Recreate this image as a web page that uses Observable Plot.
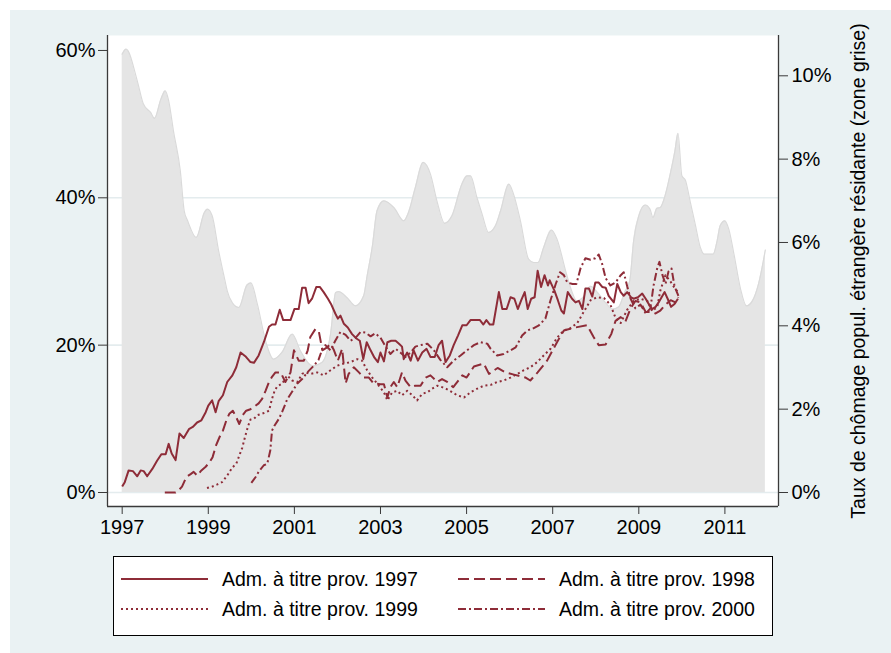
<!DOCTYPE html>
<html><head><meta charset="utf-8">
<script src="https://cdn.jsdelivr.net/npm/d3@7"></script>
<script src="https://cdn.jsdelivr.net/npm/@observablehq/plot@0.6"></script>
<style>
body{margin:0;background:#fff;font-family:"Liberation Sans",Arial,sans-serif;}
#bg{position:absolute;left:10px;top:10px;width:881px;height:643px;background:#eaf2f3;}
#chart{position:absolute;left:0;top:0;}
#legend{position:absolute;left:113px;top:556px;width:660px;height:80px;border:1px solid #000;background:#fff;box-sizing:border-box;}
.item{position:absolute;height:26px;display:flex;align-items:center;font-size:19.5px;color:#000;white-space:nowrap;}
.item svg{margin-right:14px;}
</style></head><body>
<div id="bg"></div><div id="chart"></div><div id="legend"></div>
<script>
// Unemployment rate of resident foreign population (right axis, %), [year, value]
const unemployment = [[1997.00,10.52],[1997.09,10.64],[1997.35,9.88],[1997.49,9.33],[1997.66,9.12],[1997.75,8.98],[1997.90,9.44],[1998.00,9.64],[1998.08,9.40],[1998.19,8.68],[1998.35,7.72],[1998.44,6.76],[1998.52,6.52],[1998.72,6.12],[1998.91,6.72],[1998.98,6.80],[1999.09,6.64],[1999.24,5.80],[1999.38,5.12],[1999.44,4.84],[1999.56,4.55],[1999.71,4.44],[1999.90,4.98],[1999.99,5.03],[2000.14,4.52],[2000.33,3.64],[2000.52,3.20],[2000.71,3.36],[2000.95,3.80],[2001.14,3.40],[2001.42,3.04],[2001.64,3.12],[2001.84,3.80],[2001.96,4.80],[2002.03,4.82],[2002.22,4.68],[2002.42,4.48],[2002.61,4.72],[2002.69,5.20],[2002.81,5.90],[2002.92,6.76],[2003.08,7.00],[2003.31,6.84],[2003.54,6.52],[2003.65,6.72],[2003.81,7.32],[2003.99,7.92],[2004.16,7.64],[2004.31,7.00],[2004.49,6.46],[2004.66,6.64],[2004.89,7.40],[2005.01,7.60],[2005.09,7.60],[2005.24,7.08],[2005.36,6.68],[2005.51,6.24],[2005.67,6.40],[2005.79,6.76],[2005.98,7.40],[2006.09,7.16],[2006.25,6.52],[2006.44,5.60],[2006.56,5.52],[2006.66,5.52],[2006.79,5.88],[2006.97,6.30],[2007.10,6.08],[2007.30,5.32],[2007.42,4.90],[2007.56,4.60],[2007.72,4.70],[2007.88,4.95],[2008.04,4.80],[2008.23,4.55],[2008.39,4.40],[2008.53,4.45],[2008.67,4.80],[2008.79,5.08],[2008.88,6.04],[2009.00,6.64],[2009.15,6.90],[2009.26,6.80],[2009.33,6.60],[2009.42,6.82],[2009.50,6.84],[2009.61,7.12],[2009.73,7.64],[2009.84,8.20],[2009.91,8.62],[2010.00,7.60],[2010.08,7.50],[2010.19,7.00],[2010.31,6.44],[2010.43,5.88],[2010.52,5.72],[2010.73,5.72],[2010.82,6.04],[2010.89,6.40],[2011.00,6.52],[2011.09,6.32],[2011.21,5.72],[2011.36,4.90],[2011.50,4.48],[2011.64,4.60],[2011.78,5.00],[2011.94,5.82]];

// Cohort lines (left axis, %), [year, value]
const adm1997 = [[1997.00,0.8],[1997.06,1.4],[1997.15,3.0],[1997.25,2.9],[1997.35,2.2],[1997.43,3.0],[1997.50,2.9],[1997.58,2.2],[1997.70,3.2],[1997.81,4.3],[1997.91,5.2],[1998.01,5.2],[1998.08,6.6],[1998.15,5.3],[1998.24,4.4],[1998.33,8.0],[1998.43,7.4],[1998.55,8.6],[1998.64,8.9],[1998.74,9.5],[1998.84,9.8],[1998.94,10.9],[1999.00,11.8],[1999.09,12.5],[1999.17,10.9],[1999.24,12.4],[1999.34,13.2],[1999.44,15.0],[1999.56,15.9],[1999.65,17.0],[1999.75,19.0],[1999.86,18.5],[1999.98,17.7],[2000.06,17.6],[2000.17,18.6],[2000.29,20.4],[2000.41,22.5],[2000.48,22.8],[2000.56,22.8],[2000.66,24.8],[2000.74,23.4],[2000.83,23.4],[2000.91,23.4],[2001.00,24.9],[2001.10,24.9],[2001.18,27.8],[2001.26,27.8],[2001.33,25.7],[2001.41,26.3],[2001.51,27.9],[2001.59,27.9],[2001.68,27.2],[2001.78,26.3],[2001.85,25.6],[2001.95,24.3],[2002.01,23.6],[2002.07,24.0],[2002.15,22.9],[2002.24,22.4],[2002.34,21.5],[2002.44,20.9],[2002.52,20.6],[2002.60,18.1],[2002.68,20.4],[2002.77,19.3],[2002.86,18.3],[2002.94,17.7],[2003.00,19.0],[2003.08,17.8],[2003.16,20.4],[2003.25,20.6],[2003.35,20.6],[2003.43,20.2],[2003.50,19.8],[2003.54,18.1],[2003.62,19.0],[2003.70,17.9],[2003.77,19.3],[2003.87,17.9],[2003.97,19.0],[2004.07,19.5],[2004.16,18.4],[2004.26,18.4],[2004.35,20.0],[2004.43,20.6],[2004.51,17.7],[2004.61,18.6],[2004.70,20.0],[2004.80,21.3],[2004.90,22.7],[2005.00,22.7],[2005.09,23.4],[2005.21,23.4],[2005.31,23.4],[2005.39,22.8],[2005.46,23.4],[2005.54,22.8],[2005.62,22.8],[2005.75,27.2],[2005.83,24.9],[2005.93,24.9],[2006.02,26.5],[2006.11,26.3],[2006.19,24.9],[2006.27,26.1],[2006.35,27.2],[2006.42,24.9],[2006.50,26.3],[2006.58,26.5],[2006.65,30.1],[2006.73,27.9],[2006.81,29.5],[2006.89,28.1],[2006.93,28.8],[2007.04,27.4],[2007.12,26.1],[2007.20,24.7],[2007.26,24.3],[2007.35,27.2],[2007.45,26.3],[2007.53,25.8],[2007.61,26.0],[2007.69,24.9],[2007.76,27.7],[2007.84,27.7],[2007.92,26.6],[2007.99,28.5],[2008.07,28.5],[2008.15,27.9],[2008.23,27.8],[2008.30,26.7],[2008.42,25.8],[2008.50,28.3],[2008.58,27.2],[2008.65,26.7],[2008.73,27.2],[2008.82,26.5],[2008.88,26.3],[2008.98,26.5],[2009.08,27.0],[2009.16,26.3],[2009.23,25.6],[2009.31,24.9],[2009.39,25.2],[2009.46,25.8],[2009.54,26.6],[2009.60,27.2],[2009.67,26.3],[2009.75,25.2],[2009.83,25.6],[2009.91,26.3]];

const adm1998 = [[1997.99,0.0],[1998.24,0.0],[1998.31,0.3],[1998.39,0.8],[1998.49,2.1],[1998.59,2.5],[1998.66,2.8],[1998.74,2.3],[1998.84,3.0],[1998.94,3.5],[1999.03,4.1],[1999.10,4.8],[1999.18,6.4],[1999.26,7.5],[1999.34,8.4],[1999.42,9.8],[1999.49,10.7],[1999.57,11.1],[1999.65,10.2],[1999.72,9.3],[1999.80,10.5],[1999.88,11.1],[1999.98,11.3],[2000.08,11.7],[2000.17,12.1],[2000.25,12.7],[2000.33,13.8],[2000.41,15.0],[2000.48,15.7],[2000.56,16.3],[2000.68,16.3],[2000.79,15.0],[2000.91,16.3],[2000.99,19.3],[2001.10,17.9],[2001.22,17.9],[2001.31,19.3],[2001.37,21.1],[2001.49,22.2],[2001.57,21.8],[2001.65,19.3],[2001.76,19.7],[2001.84,20.2],[2001.92,19.3],[2002.01,17.9],[2002.11,19.5],[2002.19,14.8],[2002.26,16.1],[2002.38,17.0],[2002.50,16.3],[2002.61,15.6],[2002.73,15.6],[2002.84,14.8],[2003.00,14.7],[2003.08,14.7],[2003.16,12.9],[2003.23,14.3],[2003.31,15.0],[2003.39,14.3],[2003.50,16.3],[2003.58,15.2],[2003.70,14.3],[2003.81,14.5],[2003.93,14.5],[2004.05,15.6],[2004.16,15.9],[2004.32,15.0],[2004.43,15.4],[2004.55,15.0],[2004.69,14.3],[2004.90,15.9],[2005.00,15.6],[2005.17,17.1],[2005.40,17.5],[2005.52,16.1],[2005.72,16.9],[2005.90,16.3],[2006.10,16.0],[2006.37,15.6],[2006.48,15.2],[2006.65,16.3],[2006.87,17.9],[2007.10,20.4],[2007.26,22.0],[2007.53,22.4],[2007.80,22.7],[2007.95,21.1],[2008.07,20.0],[2008.23,20.1],[2008.36,21.5],[2008.46,23.3],[2008.58,23.8],[2008.69,23.2],[2008.81,25.0],[2008.92,26.0],[2009.04,25.8],[2009.16,24.5],[2009.27,24.5],[2009.39,24.3],[2009.50,24.7],[2009.62,25.5],[2009.74,26.1],[2009.85,25.8],[2009.92,26.5]];

const adm1999 = [[1998.97,0.6],[1999.09,0.8],[1999.21,1.1],[1999.32,1.4],[1999.44,2.3],[1999.56,3.4],[1999.65,3.9],[1999.72,5.0],[1999.79,6.1],[1999.86,7.7],[1999.93,9.1],[1999.98,9.9],[2000.06,10.0],[2000.14,10.5],[2000.25,10.7],[2000.34,10.9],[2000.41,11.1],[2000.48,12.7],[2000.54,13.8],[2000.60,14.4],[2000.72,14.8],[2000.83,15.9],[2000.95,15.2],[2001.07,15.0],[2001.18,16.1],[2001.26,16.3],[2001.37,16.1],[2001.53,16.3],[2001.68,15.9],[2001.84,16.6],[2001.99,17.2],[2002.15,17.5],[2002.30,17.7],[2002.46,18.1],[2002.57,17.9],[2002.69,16.6],[2002.81,15.6],[2002.92,14.8],[2003.08,13.6],[2003.16,12.5],[2003.27,13.6],[2003.39,13.8],[2003.50,13.2],[2003.62,13.8],[2003.74,13.2],[2003.85,12.5],[2003.97,13.4],[2004.09,13.6],[2004.20,14.1],[2004.32,14.5],[2004.43,14.3],[2004.55,14.0],[2004.67,13.6],[2004.78,13.2],[2004.94,12.9],[2005.09,13.6],[2005.25,14.1],[2005.40,14.5],[2005.56,14.6],[2005.71,15.0],[2005.86,15.2],[2006.02,15.6],[2006.18,16.1],[2006.33,16.6],[2006.48,17.0],[2006.64,17.7],[2006.79,18.6],[2006.95,19.5],[2007.10,21.0],[2007.26,22.0],[2007.41,22.3],[2007.57,23.0],[2007.72,24.5],[2007.88,26.1],[2008.03,26.5],[2008.19,26.4],[2008.34,25.5],[2008.46,23.7],[2008.58,23.0],[2008.73,24.8],[2008.88,26.0],[2009.04,26.3],[2009.20,26.0],[2009.31,24.6],[2009.43,25.2],[2009.50,27.4],[2009.62,29.5],[2009.74,28.6],[2009.85,27.6],[2009.92,27.2]];

const adm2000 = [[2000.00,1.3],[2000.10,2.1],[2000.17,2.8],[2000.29,3.7],[2000.37,3.9],[2000.44,5.7],[2000.48,8.4],[2000.54,9.1],[2000.64,10.0],[2000.72,11.0],[2000.83,12.6],[2000.95,13.7],[2001.07,14.8],[2001.18,15.4],[2001.30,16.3],[2001.45,17.2],[2001.56,18.0],[2001.65,19.5],[2001.72,20.0],[2001.84,19.3],[2001.95,20.6],[2002.07,21.8],[2002.19,21.4],[2002.30,20.6],[2002.42,21.0],[2002.54,21.8],[2002.65,21.7],[2002.77,21.2],[2002.88,21.6],[2003.00,21.0],[2003.12,19.8],[2003.23,18.8],[2003.35,19.5],[2003.46,19.0],[2003.58,18.4],[2003.70,19.0],[2003.81,19.8],[2003.93,20.0],[2004.09,20.2],[2004.24,19.3],[2004.39,18.0],[2004.55,17.0],[2004.70,17.9],[2004.86,18.6],[2005.01,19.3],[2005.17,20.0],[2005.32,20.4],[2005.48,20.2],[2005.56,19.5],[2005.71,18.6],[2005.86,18.8],[2006.02,19.3],[2006.14,19.7],[2006.29,21.3],[2006.41,22.0],[2006.52,22.2],[2006.68,22.7],[2006.83,23.6],[2006.95,26.1],[2007.07,28.3],[2007.17,29.9],[2007.26,29.5],[2007.34,28.5],[2007.46,28.3],[2007.55,28.3],[2007.65,30.5],[2007.76,31.8],[2007.88,31.6],[2007.99,31.8],[2008.07,32.3],[2008.15,31.0],[2008.23,29.1],[2008.34,28.1],[2008.46,28.5],[2008.58,29.5],[2008.65,29.9],[2008.73,28.0],[2008.81,26.3],[2008.92,25.0],[2009.04,25.5],[2009.16,24.3],[2009.27,25.0],[2009.34,28.0],[2009.43,30.5],[2009.48,31.3],[2009.55,29.5],[2009.62,28.3],[2009.69,30.0],[2009.76,30.4],[2009.83,28.0],[2009.92,26.7]];

const seriesNames = ["Adm. à titre prov. 1997","Adm. à titre prov. 1998","Adm. à titre prov. 1999","Adm. à titre prov. 2000"];
const xTicks = [1997,1999,2001,2003,2005,2007,2009,2011];
const leftTicks = [0,20,40,60];
const gridTicks = [0,20,40];
const rightTicks = [0,2,4,6,8,10];
const rightTitle = "Taux de chômage popul. étrangère résidante (zone grise)";

const k = 5.656; // right-axis unit expressed in left-axis units
const lineColor = "#8e2c38";
const dashes = [null, "11,5", "2,3", "8,3,2,3"];
const series = [adm1997, adm1998, adm1999, adm2000];
const xDom = [1996.659, 2012.245];
const yDom = [-1.9, 62.03];
const font = '"Liberation Sans", Arial, sans-serif';

const plot = Plot.plot({
  width: 891, height: 545,
  marginLeft: 107, marginRight: 113, marginTop: 35, marginBottom: 39,
  style: {background: "transparent", fontFamily: font, color: "#000", overflow: "visible"},
  x: {domain: xDom},
  y: {domain: yDom},
  marks: [
    Plot.frame({fill: "white", stroke: "none"}),
    Plot.ruleY(gridTicks, {stroke: "#e4ecee", strokeWidth: 1.6}),
    Plot.areaY(unemployment, {x: d => d[0], y: d => d[1] * k, fill: "#e5e5e5", curve: "monotone-x"}),
    Plot.line(unemployment, {x: d => d[0], y: d => d[1] * k, stroke: "#dadada", strokeWidth: 1.2, curve: "monotone-x"}),
    ...series.map((s, i) => Plot.line(s, {x: d => d[0], y: d => d[1], stroke: lineColor, strokeWidth: 2, strokeDasharray: dashes[i], strokeLinecap: "butt", strokeLinejoin: "round"})),
    Plot.ruleX([xDom[0]], {stroke: "#3a3a3a", strokeWidth: 1.3}),
    Plot.ruleX([xDom[1]], {stroke: "#3a3a3a", strokeWidth: 1.3}),
    Plot.ruleY([yDom[0]], {stroke: "#3a3a3a", strokeWidth: 1.3}),
    Plot.axisX({ticks: xTicks, tickFormat: d => String(d), tickSize: 8, tickPadding: 5, fontSize: 20, stroke: "#3a3a3a", fill: "#000", label: null}),
    Plot.axisY({anchor: "left", ticks: leftTicks, tickFormat: d => d + "%", tickSize: 9, tickPadding: 3, fontSize: 20, stroke: "#3a3a3a", fill: "#000", label: null}),
    Plot.axisY({anchor: "right", ticks: rightTicks.map(d => d * k), tickFormat: d => Math.round(d / k) + "%", tickSize: 9, tickPadding: 4, fontSize: 20, stroke: "#3a3a3a", fill: "#000", label: null}),
    Plot.text([rightTitle], {text: d => d, frameAnchor: "right", textAnchor: "middle", lineAnchor: "middle", dx: 80, rotate: -90, fontSize: 19.5, fill: "#000"})
  ]
});
document.getElementById("chart").appendChild(plot);

// Legend
const legend = document.getElementById("legend");
const pos = [[7, 9], [344, 9], [7, 39], [344, 39]];
seriesNames.forEach((name, i) => {
  const item = document.createElement("div");
  item.className = "item";
  item.style.left = pos[i][0] + "px";
  item.style.top = pos[i][1] + "px";
  const svg = d3.create("svg").attr("width", 87).attr("height", 10);
  svg.append("line").attr("x1", 0).attr("x2", 87).attr("y1", 5).attr("y2", 5)
    .attr("stroke", lineColor).attr("stroke-width", 2)
    .attr("stroke-dasharray", dashes[i]);
  item.appendChild(svg.node());
  const span = document.createElement("span");
  span.textContent = name;
  item.appendChild(span);
  legend.appendChild(item);
});
</script>
</body></html>
